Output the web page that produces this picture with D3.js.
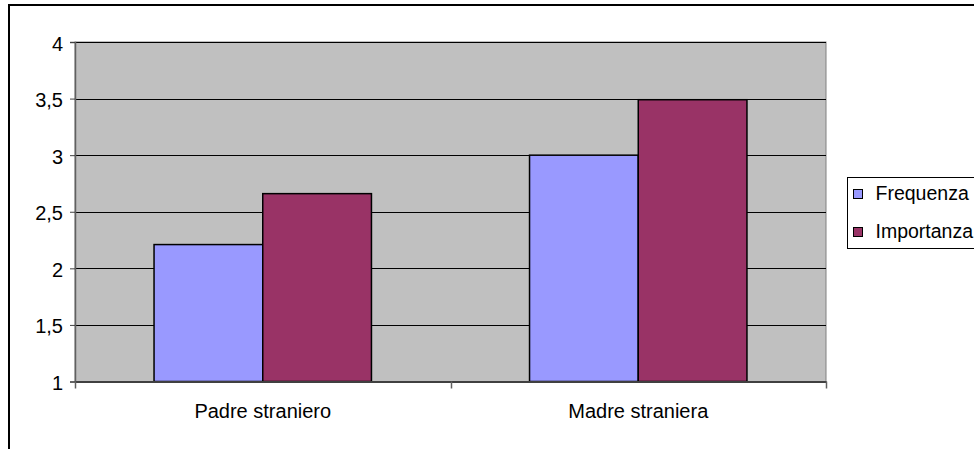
<!DOCTYPE html>
<html>
<head>
<meta charset="utf-8">
<script src="https://cdn.jsdelivr.net/npm/d3@7"></script>
<style>
  html, body { margin: 0; padding: 0; background: #fff; }
  svg { display: block; }
  text { font-family: "Liberation Sans", Arial, sans-serif; fill: #000; }
</style>
</head>
<body>
<svg id="chart" width="974" height="449"></svg>
<script>
// Data
const categories = ["Padre straniero", "Madre straniera"];
const seriesNames = ["Frequenza", "Importanza"];
const frequenza = [2.21, 3.0];
const importanza = [2.66, 3.49];
const yTicks = [1, 1.5, 2, 2.5, 3, 3.5, 4];
const seriesColors = ["#9999FF", "#993366"];

const values = [frequenza, importanza];

const svg = d3.select("#chart");
const W = 974, H = 449;

// Outer chart frame (continues past the right and bottom edges)
svg.append("rect")
  .attr("x", 9).attr("y", 5)
  .attr("width", W + 20).attr("height", H + 20)
  .attr("fill", "#fff")
  .attr("stroke", "#000")
  .attr("stroke-width", 2);

const plot = { left: 75, right: 826, top: 42, bottom: 381.5 };

const y = d3.scaleLinear().domain([1, 4]).range([plot.bottom, plot.top]);
const x0 = d3.scaleBand().domain(categories).range([plot.left, plot.right]).padding(0);
const bw = x0.bandwidth();
const x1 = d3.scaleBand().domain(seriesNames).range([bw * 0.2105, bw * 0.7895]).padding(0);

// Plot area background
svg.append("rect")
  .attr("x", plot.left).attr("y", plot.top)
  .attr("width", plot.right - plot.left).attr("height", plot.bottom - plot.top)
  .attr("fill", "#C0C0C0")
  .attr("stroke", "#808080")
  .attr("stroke-width", 1);

// Horizontal gridlines
svg.append("g")
  .selectAll("line")
  .data(yTicks.filter(t => t > 1))
  .join("line")
  .attr("x1", plot.left).attr("x2", plot.right)
  .attr("y1", d => Math.round(y(d)) + 0.5)
  .attr("y2", d => Math.round(y(d)) + 0.5)
  .attr("stroke", "#000")
  .attr("stroke-width", 1);

// Bars
const groups = svg.append("g")
  .selectAll("g")
  .data(categories)
  .join("g")
  .attr("transform", d => `translate(${x0(d)},0)`);

groups.selectAll("rect")
  .data((d, i) => seriesNames.map((s, j) => ({ s, v: values[j][i], j })))
  .join("rect")
  .attr("x", d => x1(d.s))
  .attr("y", d => y(d.v))
  .attr("width", x1.bandwidth())
  .attr("height", d => y(1) - y(d.v))
  .attr("fill", d => seriesColors[d.j])
  .attr("stroke", "#000")
  .attr("stroke-width", 1.5);

// Y axis
const fmt = d => String(d).replace(".", ",");
const yAxis = svg.append("g")
  .attr("transform", `translate(${plot.left},0)`)
  .call(d3.axisLeft(y).tickValues(yTicks).tickFormat(fmt).tickSize(5).tickPadding(7));
yAxis.select(".domain").attr("stroke", "#606060").attr("stroke-width", 1.5);
yAxis.selectAll(".tick line").attr("stroke", "#404040");
yAxis.selectAll(".tick text")
  .attr("font-size", 20)
  .attr("dy", "0.4em")
  .attr("font-family", "Liberation Sans, Arial, sans-serif")
  .attr("fill", "#000");

// X axis
const xAxis = svg.append("g")
  .attr("transform", `translate(0,${plot.bottom})`)
  .call(d3.axisBottom(x0).tickSize(0).tickPadding(22));
xAxis.select(".domain").attr("stroke", "#404040").attr("stroke-width", 2);
xAxis.selectAll(".tick text")
  .attr("font-size", 20)
  .attr("font-family", "Liberation Sans, Arial, sans-serif")
  .attr("fill", "#000");

// Category separators on the x axis
const sepX = [plot.left, x0(categories[1]), plot.right];
svg.append("g")
  .selectAll("line")
  .data(sepX)
  .join("line")
  .attr("x1", d => Math.round(d) + 0.5).attr("x2", d => Math.round(d) + 0.5)
  .attr("y1", plot.bottom).attr("y2", plot.bottom + 7)
  .attr("stroke", "#606060")
  .attr("stroke-width", 1.5);

// Legend
const legend = svg.append("g").attr("transform", "translate(847.5,177.5)");
legend.append("rect")
  .attr("width", 200).attr("height", 71)
  .attr("fill", "#fff")
  .attr("stroke", "#000")
  .attr("stroke-width", 1);

const items = legend.selectAll("g.item")
  .data(seriesNames)
  .join("g")
  .attr("class", "item")
  .attr("transform", (d, i) => `translate(6,${12 + i * 38})`);
items.append("rect")
  .attr("width", 9).attr("height", 9)
  .attr("fill", (d, i) => seriesColors[i])
  .attr("stroke", "#000")
  .attr("stroke-width", 1);
items.append("text")
  .attr("x", 22).attr("y", 10)
  .attr("font-size", 19.5)
  .text(d => d);
</script>
</body>
</html>
